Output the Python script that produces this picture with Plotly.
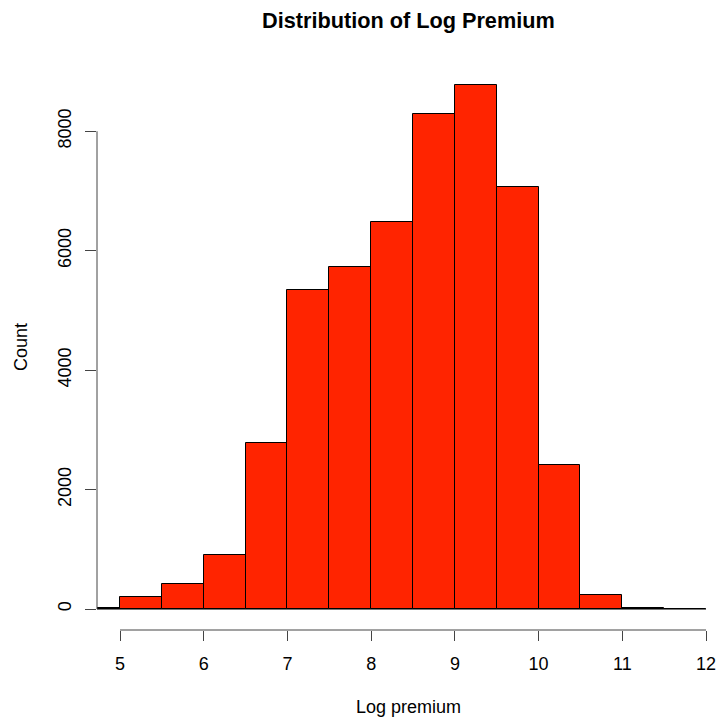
import plotly.graph_objects as go

# Histogram data (bin edges and counts)
bin_edges = [4.5, 5.0, 5.5, 6.0, 6.5, 7.0, 7.5, 8.0, 8.5, 9.0, 9.5, 10.0, 10.5, 11.0, 11.5, 12.0]
counts = [20, 195, 418, 909, 2783, 5340, 5720, 6480, 8285, 8775, 7070, 2415, 240, 10, 0]

x_ticks = [5, 6, 7, 8, 9, 10, 11, 12]
y_ticks = [0, 2000, 4000, 6000, 8000]

title_text = "Distribution of Log Premium"
x_label = "Log premium"
y_label = "Count"

FONT = "Liberation Sans, Arial, Helvetica, sans-serif"
BAR_COLOR = "#FF2400"
AXIS_COLOR = "#444444"

centers = [(a + b) / 2 for a, b in zip(bin_edges[:-1], bin_edges[1:])]
widths = [b - a for a, b in zip(bin_edges[:-1], bin_edges[1:])]

fig = go.Figure()
fig.add_trace(go.Bar(
    x=centers, y=counts, width=widths,
    marker=dict(color=BAR_COLOR, line=dict(color="black", width=1)),
    showlegend=False, hoverinfo="x+y",
))
# baseline of the histogram bars (bottom edges, incl. empty bins)
fig.add_trace(go.Scatter(
    x=[bin_edges[0], bin_edges[-1]], y=[0, 0], mode="lines",
    line=dict(color="black", width=1), showlegend=False, hoverinfo="skip",
))

fig.update_layout(
    width=719, height=722,
    margin=dict(l=97, r=0, t=64, b=92),
    paper_bgcolor="white", plot_bgcolor="white",
    font=dict(family=FONT, size=18, color="black"),
    bargap=0,
    xaxis=dict(
        range=[4.725, 12.155], tickmode="array", tickvals=x_ticks,
        ticktext=[str(v) for v in x_ticks],
        ticks="outside", ticklen=10, tickwidth=1, tickcolor=AXIS_COLOR,
        ticklabelstandoff=7, ticklabeloverflow="allow",
        showline=False, showgrid=False, zeroline=False,
        tickfont=dict(size=18, color="black"),
    ),
    yaxis=dict(
        range=[-351, 9126], tickmode="array", tickvals=y_ticks,
        ticktext=[str(v) for v in y_ticks],
        ticks="outside", ticklen=11, tickwidth=1, tickcolor=AXIS_COLOR,
        tickangle=-90, ticklabelstandoff=7,
        showline=False, showgrid=False, zeroline=False,
        tickfont=dict(size=18, color="black"),
    ),
    shapes=[
        dict(type="line", xref="x", yref="paper", x0=x_ticks[0], x1=x_ticks[-1], y0=0, y1=0,
             line=dict(color=AXIS_COLOR, width=1)),
        dict(type="line", xref="paper", yref="y", x0=0, x1=0, y0=y_ticks[0], y1=y_ticks[-1],
             line=dict(color=AXIS_COLOR, width=1)),
    ],
    annotations=[
        dict(text="<b>" + title_text + "</b>", xref="paper", yref="paper", x=0.5, y=1,
             xanchor="center", yanchor="middle", yshift=44, showarrow=False,
             font=dict(size=21.7, color="black", family=FONT)),
        dict(text=x_label, xref="paper", yref="paper", x=0.5, y=0,
             xanchor="center", yanchor="middle", yshift=-77, showarrow=False,
             font=dict(size=18, color="black", family=FONT)),
        dict(text=y_label, xref="paper", yref="paper", x=0, y=0.5,
             xanchor="center", yanchor="middle", xshift=-76, textangle=-90, showarrow=False,
             font=dict(size=18, color="black", family=FONT)),
    ],
)

# remove the default 8px page margin so the figure fills the window exactly
fig.write_html(
    "out.html",
    config={"displayModeBar": False},
    post_script="document.body.style.margin='0';document.body.style.overflow='hidden';",
)
